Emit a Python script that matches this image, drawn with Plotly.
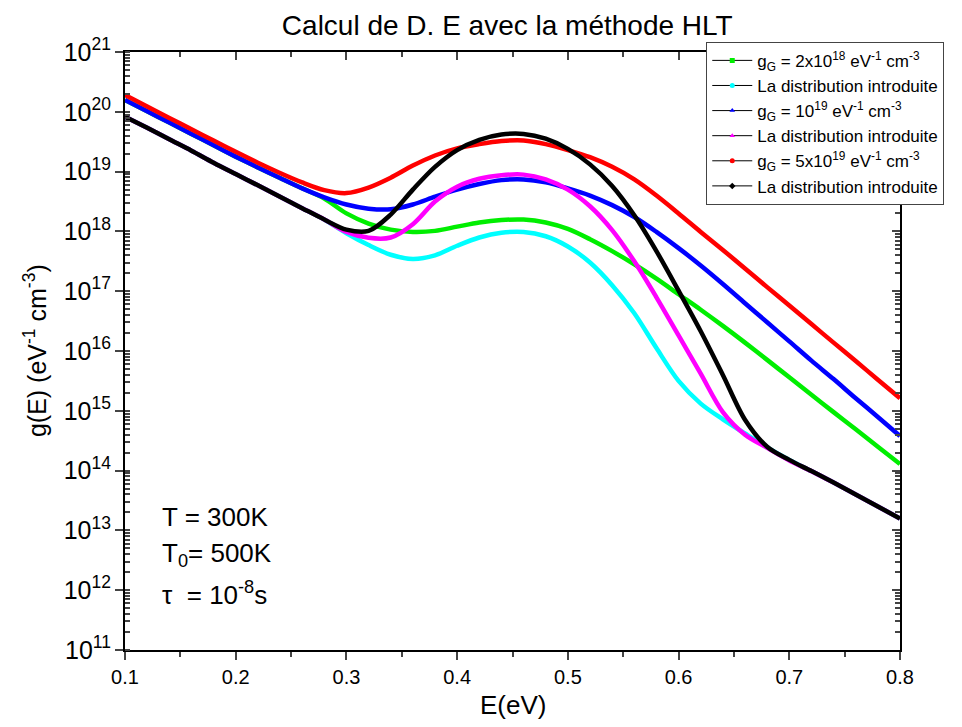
import plotly.graph_objects as go

# Energy grid (eV)
E = [0.10, 0.12, 0.14, 0.16, 0.18, 0.20, 0.22, 0.24, 0.26, 0.28, 0.30, 0.32,
     0.34, 0.36, 0.38, 0.40, 0.42, 0.44, 0.46, 0.48, 0.50, 0.52, 0.54, 0.56,
     0.58, 0.60, 0.62, 0.64, 0.66, 0.68, 0.70, 0.72, 0.74, 0.76, 0.78, 0.80]

# g_G = 2x10^18 eV-1 cm-3 (computed)
g_2e18 = [1.58e20, 1.02e20, 6.6e19, 4.27e19, 2.75e19, 1.78e19, 1.17e19, 7.8e18, 5.25e18,
          3.55e18, 2.0e18, 1.35e18, 1.07e18, 9.8e17, 1.02e18, 1.2e18, 1.41e18, 1.55e18,
          1.58e18, 1.41e18, 1.1e18, 7.4e17, 4.68e17, 2.82e17, 1.62e17, 8.9e16, 4.9e16,
          2.63e16, 1.38e16, 7.1e15, 3.63e15, 1.86e15, 9.5e14, 4.9e14, 2.51e14, 1.29e14]
# La distribution introduite (2x10^18)
d_2e18 = [8.3e19, 5.4e19, 3.47e19, 2.24e19, 1.41e19, 9.1e18, 5.9e18, 3.8e18, 2.45e18,
          1.58e18, 9.3e17, 5.9e17, 4.07e17, 3.47e17, 3.98e17, 5.75e17, 7.9e17, 9.5e17,
          9.8e17, 8.3e17, 5.6e17, 3.02e17, 1.26e17, 4.27e16, 1.12e16, 3.16e15, 1.32e15,
          7.2e14, 4.17e14, 2.45e14, 1.51e14, 9.8e13, 6.3e13, 3.98e13, 2.51e13, 1.58e13]
# g_G = 10^19 eV-1 cm-3 (computed)
g_1e19 = [1.58e20, 1.02e20, 6.6e19, 4.27e19, 2.75e19, 1.78e19, 1.17e19, 7.8e18, 5.25e18,
          3.72e18, 2.82e18, 2.4e18, 2.34e18, 2.82e18, 3.8e18, 5.0e18, 6.2e18, 7.2e18,
          7.4e18, 6.6e18, 5.25e18, 3.98e18, 2.75e18, 1.74e18, 9.8e17, 5.25e17, 2.69e17,
          1.32e17, 6.3e16, 3.02e16, 1.45e16, 6.9e15, 3.39e15, 1.62e15, 7.9e14, 3.8e14]
# La distribution introduite (10^19)
d_1e19 = [8.3e19, 5.4e19, 3.47e19, 2.24e19, 1.41e19, 9.1e18, 5.9e18, 3.8e18, 2.45e18,
          1.58e18, 9.8e17, 7.8e17, 7.9e17, 1.32e18, 3.16e18, 5.6e18, 7.6e18, 8.7e18,
          8.9e18, 7.4e18, 5.0e18, 2.63e18, 1.05e18, 3.16e17, 7.9e16, 1.82e16, 4.17e15,
          9.5e14, 3.98e14, 2.4e14, 1.48e14, 9.8e13, 6.3e13, 3.98e13, 2.51e13, 1.58e13]
# g_G = 5x10^19 eV-1 cm-3 (computed)
g_5e19 = [1.91e20, 1.23e20, 7.9e19, 5.1e19, 3.31e19, 2.14e19, 1.41e19, 9.5e18, 6.6e18,
          4.9e18, 4.37e18, 5.4e18, 7.9e18, 1.26e19, 1.86e19, 2.45e19, 2.88e19, 3.24e19,
          3.31e19, 2.88e19, 2.29e19, 1.74e19, 1.2e19, 7.4e18, 3.98e18, 2.0e18, 9.8e17,
          4.9e17, 2.4e17, 1.17e17, 5.75e16, 2.82e16, 1.38e16, 6.8e15, 3.31e15, 1.62e15]
# La distribution introduite (5x10^19)
d_5e19 = [8.3e19, 5.4e19, 3.47e19, 2.24e19, 1.41e19, 9.1e18, 5.9e18, 3.8e18, 2.45e18,
          1.58e18, 1.07e18, 1.02e18, 1.91e18, 5.0e18, 1.2e19, 2.29e19, 3.39e19, 4.17e19,
          4.27e19, 3.55e19, 2.4e19, 1.32e19, 5.75e18, 1.86e18, 4.68e17, 1.02e17, 2.14e16,
          3.98e15, 7.1e14, 2.51e14, 1.51e14, 9.8e13, 6.3e13, 3.98e13, 2.51e13, 1.58e13]

names = [
    "g<sub>G</sub> = 2x10<sup>18</sup> eV<sup>-1</sup> cm<sup>-3</sup>",
    "La distribution introduite",
    "g<sub>G</sub> = 10<sup>19</sup> eV<sup>-1</sup> cm<sup>-3</sup>",
    "La distribution introduite",
    "g<sub>G</sub> = 5x10<sup>19</sup> eV<sup>-1</sup> cm<sup>-3</sup>",
    "La distribution introduite",
]
colors = ["#00ee00", "#00ffff", "#0000ff", "#ff00ff", "#ff0000", "#000000"]
symbols = ["square", "circle", "triangle-up", "triangle-up", "circle", "diamond"]
values = [g_2e18, d_2e18, g_1e19, d_1e19, g_5e19, d_5e19]

FONT = "Liberation Sans, Arial, sans-serif"
fig = go.Figure()

for vals, col in zip(values, colors):
    fig.add_trace(go.Scatter(x=E, y=vals, mode="lines",
                             line=dict(color=col, width=4.5, shape="spline", smoothing=0.9),
                             showlegend=False, hoverinfo="skip"))

for name, col, sym in zip(names, colors, symbols):
    fig.add_trace(go.Scatter(x=[None], y=[None], mode="lines+markers", name=name,
                             line=dict(color="black", width=1),
                             marker=dict(color=col, size=5, symbol=sym)))

# dummy trace so the mirrored (top/right) axes are drawn
fig.add_trace(go.Scatter(x=[None], y=[None], xaxis="x2", yaxis="y2", showlegend=False))

fig.update_layout(
    width=962, height=727,
    margin=dict(l=117, r=70, t=44, b=85),
    paper_bgcolor="white", plot_bgcolor="white",
    font=dict(family=FONT, color="black"),
    title=dict(text="Calcul de D. E avec la méthode HLT", x=0.519, xanchor="center",
               y=0.976, yanchor="middle", font=dict(size=28, family=FONT)),
    xaxis=dict(range=[0.1, 0.8], tick0=0.1, dtick=0.1, tickformat=".1f", ticks="outside",
               ticklen=8, tickwidth=2, showline=True, linewidth=2, linecolor="black",
               showgrid=False, zeroline=False, tickfont=dict(size=20),
               minor=dict(dtick=0.05, ticks="outside", ticklen=5, tickwidth=2)),
    xaxis2=dict(range=[0.1, 0.8], overlaying="x", side="top", tick0=0.1, dtick=0.1,
                ticks="inside", ticklen=8, tickwidth=2, showticklabels=False, showline=True,
                linewidth=2, linecolor="black", showgrid=False, zeroline=False,
                minor=dict(dtick=0.05, ticks="inside", ticklen=5, tickwidth=2)),
    yaxis=dict(type="log", range=[11, 21], dtick=1, exponentformat="power", ticks="outside",
               ticklen=8, tickwidth=2, showline=True, linewidth=2, linecolor="black",
               showgrid=False, zeroline=False, tickfont=dict(size=20),
               minor=dict(dtick="D1", ticks="inside", ticklen=5, tickwidth=1.5)),
    yaxis2=dict(type="log", range=[11, 21], overlaying="y", side="right", dtick=1,
                ticks="inside", ticklen=8, tickwidth=2, showticklabels=False, showline=True,
                linewidth=2, linecolor="black", showgrid=False, zeroline=False,
                minor=dict(dtick="D1", ticks="inside", ticklen=5, tickwidth=1.5)),
    legend=dict(x=0.75, y=1.017, xanchor="left", yanchor="top", bgcolor="white",
                bordercolor="#444", borderwidth=1, font=dict(size=17, family=FONT),
                itemwidth=40, tracegroupgap=0),
    annotations=[
        dict(text="g(E) (eV<sup>-1</sup> cm<sup>-3</sup>)", textangle=-90, x=-0.116, y=0.5,
             xref="paper", yref="paper", xanchor="center", yanchor="middle", showarrow=False,
             font=dict(size=25)),
        dict(text="E(eV)", x=0.5, y=-0.092, xref="paper", yref="paper", xanchor="center",
             yanchor="middle", showarrow=False, font=dict(size=26)),
        dict(text="T = 300K", x=0.045, y=0.222, xref="paper", yref="paper", xanchor="left",
             yanchor="middle", showarrow=False, font=dict(size=26)),
        dict(text="T<sub>0</sub>= 500K", x=0.045, y=0.160, xref="paper", yref="paper",
             xanchor="left", yanchor="middle", showarrow=False, font=dict(size=26)),
        dict(text="τ\u00a0 = 10<sup>-8</sup>s", x=0.045, y=0.095, xref="paper", yref="paper",
             xanchor="left", yanchor="middle", showarrow=False, font=dict(size=26)),
    ],
)

fig.write_html("out.html")
